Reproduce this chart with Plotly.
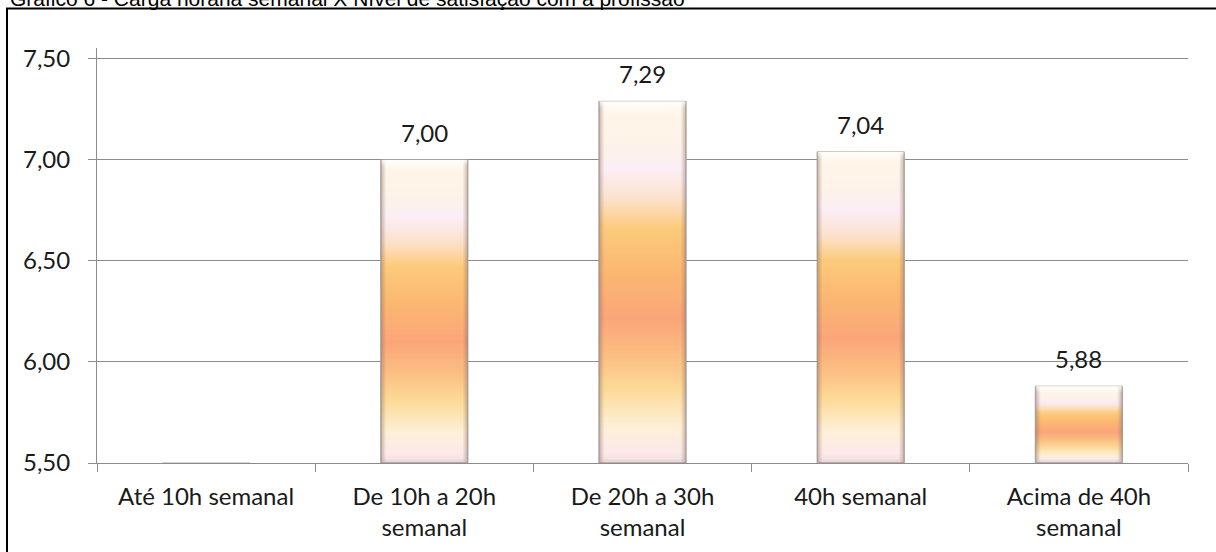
import base64
import struct
import zlib

import numpy as np
import plotly.graph_objects as go

# ---- data -------------------------------------------------------------
categories = [
    "Até 10h semanal",
    "De 10h a 20h<br>semanal",
    "De 20h a 30h<br>semanal",
    "40h semanal",
    "Acima de 40h<br>semanal",
]
satisfaction = [5.50, 7.00, 7.29, 7.04, 5.88]
y_ticks = [5.5, 6.0, 6.5, 7.0, 7.5]
title_text = "Gráfico 6 - Carga horária semanal X Nível de satisfação com a profissão"

Y_MIN, Y_MAX = 5.5, 7.554
BAR_WIDTH = 0.4
FONT = "Lato, 'Noto Sans', sans-serif"
FONT_SIZE = 24
GRID = "#8C8C8C"


def fmt(v):
    return f"{v:.2f}".replace(".", ",")


# ---- gradient fill for the bars (rendered as small PNGs) --------------
def hex_rgb(h):
    h = h.lstrip("#")
    return np.array([int(h[i:i + 2], 16) for i in (0, 2, 4)], dtype=float)


STOPS = [
    (0.00, "#FFFDF8"),
    (0.04, "#FFF6E8"),
    (0.12, "#FEF3EA"),
    (0.19, "#FCEEF6"),
    (0.27, "#FCE2CC"),
    (0.35, "#FDCB7C"),
    (0.47, "#FCB872"),
    (0.60, "#FBA67A"),
    (0.70, "#FCBE82"),
    (0.80, "#FDDC9A"),
    (0.90, "#FEF0D8"),
    (0.97, "#FCEAEA"),
    (1.00, "#F3E0DE"),
]


def png_uri(rgba):
    h, w, _ = rgba.shape
    raw = b"".join(b"\x00" + rgba[r].tobytes() for r in range(h))

    def chunk(tag, data):
        return (struct.pack(">I", len(data)) + tag + data
                + struct.pack(">I", zlib.crc32(tag + data) & 0xFFFFFFFF))

    png = (b"\x89PNG\r\n\x1a\n"
           + chunk(b"IHDR", struct.pack(">IIBBBBB", w, h, 8, 6, 0, 0, 0))
           + chunk(b"IDAT", zlib.compress(raw, 9))
           + chunk(b"IEND", b""))
    return "data:image/png;base64," + base64.b64encode(png).decode()


def bar_image(h_px, w_px=88):
    t = np.linspace(0, 1, h_px)
    pos = [s[0] for s in STOPS]
    cols = np.array([hex_rgb(s[1]) for s in STOPS])
    col = np.stack([np.interp(t, pos, cols[:, c]) for c in range(3)], axis=1)
    img = np.repeat(col[:, None, :], w_px, axis=1)

    xs = np.arange(w_px)
    d_side = np.minimum(xs, w_px - 1 - xs).astype(float)
    side = np.clip(1 - d_side / 5.0, 0, 1)[None, :, None]
    shade = np.array([150, 110, 95], dtype=float)
    img = img * (1 - 0.45 * side) + shade * 0.45 * side

    ys = np.arange(h_px)
    top = np.clip(1 - ys / 6.0, 0, 1)[:, None, None]
    img = img * (1 - 0.7 * top) + 255 * 0.7 * top
    bottom = np.clip(1 - (h_px - 1 - ys) / 4.0, 0, 1)[:, None, None]
    img = img * (1 - 0.35 * bottom) + np.array([200, 185, 185]) * 0.35 * bottom

    edge = np.zeros((h_px, w_px), dtype=bool)
    edge[:, 0] = edge[:, -1] = True
    edge[-1, :] = True
    img[edge] = img[edge] * 0.4 + np.array([150, 150, 150]) * 0.6

    rgba = np.concatenate([img, np.full((h_px, w_px, 1), 255.0)], axis=2)
    return png_uri(np.clip(rgba, 0, 255).astype(np.uint8))


fig = go.Figure()
fig.add_trace(go.Bar(
    x=categories,
    y=satisfaction,
    width=BAR_WIDTH,
    marker=dict(color="#FCC080", line=dict(color="#A8A8A8", width=1)),
    hovertemplate="%{x}: %{y:.2f}<extra></extra>",
))

W, H = 1216, 552
L, R, T, B = 97, 28, 48, 89
pw, ph = W - L - R, H - T - B


def px_x(px):
    return (px - L) / pw


def px_y(py):
    return (H - B - py) / ph


images = []
annotations = []
for cat, v in zip(categories, satisfaction):
    height = v - Y_MIN
    if height <= 0:
        continue
    images.append(dict(
        source=bar_image(max(int(round(height * 202)), 8)),
        xref="x", yref="y", x=cat, y=v,
        sizex=BAR_WIDTH, sizey=height,
        xanchor="center", yanchor="top",
        sizing="stretch", layer="above",
    ))
    annotations.append(dict(
        x=cat, y=v, xref="x", yref="y", text=fmt(v),
        showarrow=False, yanchor="bottom", yshift=11,
        font=dict(family=FONT, size=FONT_SIZE, color="#1A1A1A"),
    ))

# caption above the framed chart
annotations.append(dict(
    x=px_x(8), y=px_y(12.5), xref="paper", yref="paper", text=title_text,
    showarrow=False, xanchor="left", yanchor="bottom",
    font=dict(family="'Liberation Sans', Arial, sans-serif", size=21, color="#000"),
))

fig.update_layout(
    width=W, height=H, autosize=False,
    margin=dict(l=L, r=R, t=T, b=B, pad=0),
    paper_bgcolor="white", plot_bgcolor="white",
    showlegend=False,
    separators=",.",
    font=dict(family=FONT, size=FONT_SIZE, color="#1A1A1A"),
    images=images,
    annotations=annotations,
    shapes=[dict(
        type="rect", xref="paper", yref="paper",
        x0=px_x(7), x1=px_x(1240), y0=px_y(580), y1=px_y(8.5),
        line=dict(color="black", width=2), fillcolor="rgba(0,0,0,0)",
        layer="above",
    )],
    xaxis=dict(
        type="category",
        showline=True, linecolor=GRID, linewidth=1,
        ticks="outside", tickson="boundaries", ticklen=8, tickcolor=GRID,
        showgrid=False, automargin=False,
        tickfont=dict(family=FONT, size=FONT_SIZE, color="#1A1A1A"),
        ticklabelstandoff=12,
    ),
    yaxis=dict(
        range=[Y_MIN, Y_MAX],
        tickvals=y_ticks, tickformat=".2f",
        showline=True, linecolor=GRID, linewidth=1,
        ticks="outside", ticklen=8, tickcolor=GRID,
        showgrid=True, gridcolor=GRID, gridwidth=1,
        zeroline=False, automargin=False,
        tickfont=dict(family=FONT, size=FONT_SIZE, color="#1A1A1A"),
        ticklabelstandoff=13,
    ),
)

fig.write_html("out.html")
